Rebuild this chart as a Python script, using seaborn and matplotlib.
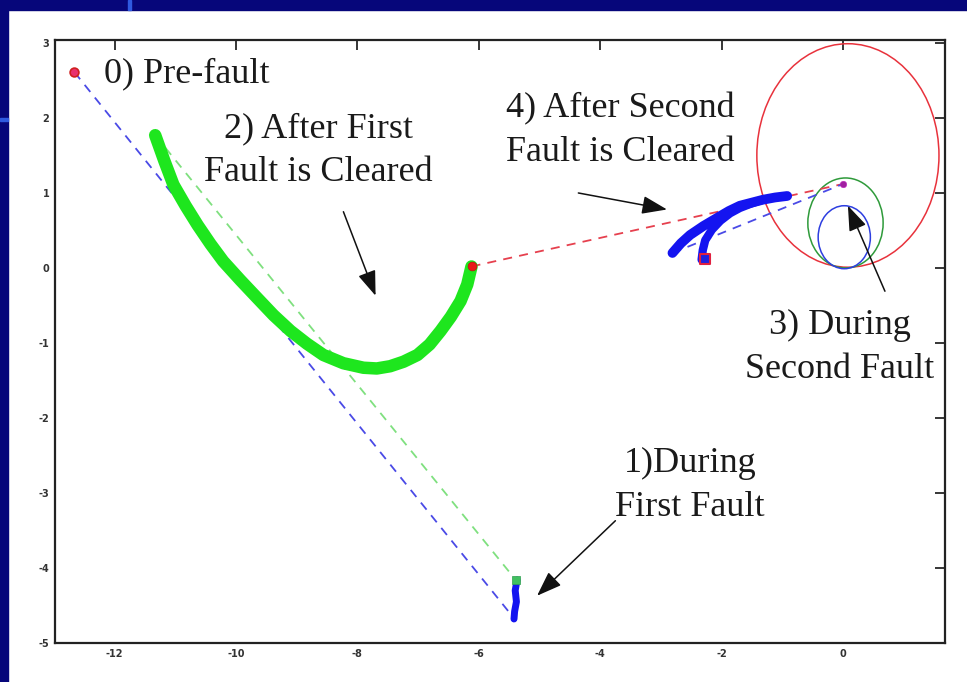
import matplotlib
matplotlib.use('Agg')
import matplotlib.pyplot as plt
from matplotlib.patches import Ellipse, Rectangle
import seaborn as sns

# ---- data ----
# 0) pre-fault operating point
pre_x, pre_y = [-12.66], [2.61]

# 1) during first fault (short blue vertical trace)
f1_x = [-5.37, -5.40, -5.38, -5.41, -5.42]
f1_y = [-4.16, -4.30, -4.45, -4.58, -4.68]
f1_start = ([-5.39], [-4.16])

# 2) after first fault is cleared (thick green curve)
g_x = [-11.33, -11.18, -11.03, -10.83, -10.63, -10.42, -10.21, -9.93, -9.65, -9.38, -9.10,
       -8.83, -8.56, -8.23, -7.90, -7.68, -7.46, -7.24, -7.01, -6.81, -6.63, -6.46, -6.30,
       -6.19, -6.12]
g_y = [1.77, 1.43, 1.11, 0.83, 0.57, 0.32, 0.09, -0.16, -0.40, -0.63, -0.84,
       -1.01, -1.16, -1.27, -1.33, -1.34, -1.31, -1.25, -1.16, -1.02, -0.84, -0.65, -0.44,
       -0.22, 0.02]
red_pt = ([-6.12], [0.02])

# dashed jumps
blue_jump_x, blue_jump_y = [-12.66, -5.47], [2.61, -4.62]
green_jump_x, green_jump_y = [-11.33, -5.39], [1.77, -4.16]
red_jump_x, red_jump_y = [-6.12, 0.0], [0.02, 1.12]
blue_jump2_x, blue_jump2_y = [-2.81, 0.0], [0.20, 1.12]

# 3) during second fault: circles (centre x, centre y, radius x, radius y)
circ_cx = [0.08, 0.04, 0.02]
circ_cy = [1.50, 0.60, 0.41]
circ_rx = [1.50, 0.62, 0.43]
circ_ry = [1.49, 0.60, 0.42]
circ_col = ['#e8323c', '#2e9a3a', '#2d3ee0']
purple_pt = ([0.0], [1.12])

# 4) after second fault is cleared (two thick blue arcs)
b1_x = [-2.81, -2.67, -2.52, -2.30, -2.07, -1.88, -1.70, -1.51, -1.32, -1.12, -0.92]
b1_y = [0.20, 0.33, 0.44, 0.56, 0.67, 0.76, 0.83, 0.87, 0.91, 0.94, 0.96]
b2_x = [-2.33, -2.31, -2.27, -2.16, -2.02, -1.86, -1.70, -1.51, -1.32]
b2_y = [0.11, 0.24, 0.37, 0.51, 0.63, 0.73, 0.80, 0.86, 0.91]
sq_pt = ([-2.27], [0.12])

# annotations: text, text position, arrow tail, arrow head
labels = ['0) Pre-fault', '2) After First\nFault is Cleared', '4) After Second\nFault is Cleared',
          '3) During\nSecond Fault', '1)During\nFirst Fault']
label_xy = [(-12.18, 2.59), (-8.64, 1.56), (-3.67, 1.83), (-0.05, -1.06), (-2.52, -2.90)]
arrow_tail = [None, (-8.23, 0.75), (-4.36, 1.00), (0.69, -0.31), (-3.75, -3.37)]
arrow_head = [None, (-7.70, -0.37), (-2.90, 0.78), (0.08, 0.83), (-5.04, -4.37)]

xticks = [-12, -10, -8, -6, -4, -2, 0]
yticks = [-5, -4, -3, -2, -1, 0, 1, 2, 3]

# ---- plotting ----
sns.set_style('white')
plt.rcParams['axes.unicode_minus'] = False

fig = plt.figure(figsize=(9.67, 6.82), dpi=100, facecolor='white')
ax = fig.add_axes([0.0569, 0.0572, 0.9204, 0.8842])

# slide frame
navy = '#06067a'
fig.patches.append(Rectangle((0, 1 - 10 / 682), 1, 10 / 682, transform=fig.transFigure, color=navy, zorder=-1))
fig.patches.append(Rectangle((0, 0), 8 / 967, 1, transform=fig.transFigure, color=navy, zorder=-1))
fig.patches.append(Rectangle((0, 1 - 121 / 682), 8 / 967, 3 / 682, transform=fig.transFigure, color='#2f5ae0', zorder=0))
fig.patches.append(Rectangle((128 / 967, 1 - 10 / 682), 3 / 967, 10 / 682, transform=fig.transFigure, color='#2f5ae0', zorder=0))

dash = (0, (5, 4))
sns.lineplot(x=blue_jump_x, y=blue_jump_y, ax=ax, color='#4a4ae6', lw=1.3, linestyle=dash, sort=False, estimator=None)
sns.lineplot(x=green_jump_x, y=green_jump_y, ax=ax, color='#7fe07f', lw=1.3, linestyle=dash, sort=False, estimator=None)
sns.lineplot(x=red_jump_x, y=red_jump_y, ax=ax, color='#e6404e', lw=1.3, linestyle=dash, sort=False, estimator=None)
sns.lineplot(x=blue_jump2_x, y=blue_jump2_y, ax=ax, color='#4a4ae6', lw=1.3, linestyle=dash, sort=False, estimator=None)

for cx, cy, rx, ry, c in zip(circ_cx, circ_cy, circ_rx, circ_ry, circ_col):
    ax.add_patch(Ellipse((cx, cy), 2 * rx, 2 * ry, fill=False, edgecolor=c, lw=1.1))

thick = dict(sort=False, estimator=None, solid_capstyle='round', solid_joinstyle='round')
sns.lineplot(x=g_x, y=g_y, ax=ax, color='#1ee61e', lw=9, **thick)
sns.lineplot(x=f1_x, y=f1_y, ax=ax, color='#1414f0', lw=5, **thick)
sns.lineplot(x=b1_x, y=b1_y, ax=ax, color='#1414f0', lw=7, **thick)
sns.lineplot(x=b2_x, y=b2_y, ax=ax, color='#1414f0', lw=6, **thick)

sns.scatterplot(x=pre_x, y=pre_y, ax=ax, s=40, color='#e8306e', edgecolor='#d02020', linewidth=1.2, zorder=5)
sns.scatterplot(x=red_pt[0], y=red_pt[1], ax=ax, s=40, color='#e81818', edgecolor='#c01010', zorder=5)
sns.scatterplot(x=f1_start[0], y=f1_start[1], ax=ax, s=40, marker='s', color='#40c060', edgecolor='#30a050', zorder=5)
sns.scatterplot(x=sq_pt[0], y=sq_pt[1], ax=ax, s=55, marker='s', color='#2020e0', edgecolor='#e02040', linewidth=1.5, zorder=5)
sns.scatterplot(x=purple_pt[0], y=purple_pt[1], ax=ax, s=22, color='#a020a0', edgecolor='#c020c0', zorder=5)

for txt, (tx, ty), tail, head in zip(labels, label_xy, arrow_tail, arrow_head):
    ha = 'left' if tail is None else 'center'
    ax.text(tx, ty, txt, ha=ha, va='center', multialignment='center',
            family='Liberation Serif', fontsize=26, color='#1a1a1a', linespacing=1.42)
    if tail is not None:
        ax.annotate('', xy=head, xytext=tail,
                    arrowprops=dict(arrowstyle='-|>,head_length=0.55,head_width=0.2',
                                    mutation_scale=28, color='#111111', lw=1.1,
                                    shrinkA=0, shrinkB=0))

ax.set_xlim(-12.98, 1.68)
ax.set_ylim(-5, 3.04)
ax.set_xticks(xticks)
ax.set_yticks(yticks)
ax.set_xticklabels([str(t) for t in xticks], fontsize=7, fontweight='bold', color='#333333')
ax.set_yticklabels([str(t) for t in yticks], fontsize=7, fontweight='bold', color='#333333')
ax.tick_params(direction='in', length=7, width=1.3, top=True, right=True, pad=4)
for s in ax.spines.values():
    s.set_linewidth(1.6)
    s.set_color('#222222')
ax.set_xlabel('')
ax.set_ylabel('')

fig.savefig('out.png', dpi=100, facecolor='white')
